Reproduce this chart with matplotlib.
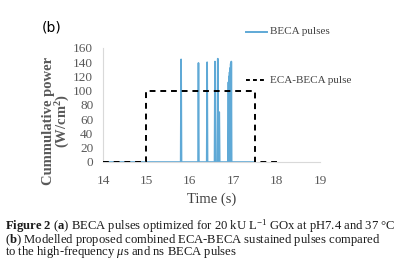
import matplotlib
matplotlib.use("Agg")
import matplotlib.pyplot as plt
from matplotlib.lines import Line2D

plt.rcParams['mathtext.fontset'] = 'custom'
plt.rcParams['mathtext.rm'] = 'Liberation Serif'
plt.rcParams['mathtext.it'] = 'Liberation Serif:italic'
plt.rcParams['mathtext.bf'] = 'Liberation Serif:bold'

# BECA pulses (time in s, power in W/cm^2)
beca_time = [14.0, 15.79, 15.80, 15.81, 16.19, 16.20, 16.21, 16.39, 16.40, 16.41,
             16.57, 16.58, 16.59, 16.63, 16.645, 16.655, 16.67, 16.68, 16.69,
             16.88, 16.89, 16.897, 16.903, 16.91, 16.917, 16.923, 16.93, 16.937,
             16.943, 16.95, 16.957, 16.965, 17.5]
beca_power = [0, 0, 144, 0, 0, 139, 0, 0, 140, 0,
              0, 141, 0, 0, 145, 0, 70, 70, 0,
              0, 112, 0, 120, 0, 126, 0, 132, 0,
              138, 0, 141, 0, 0]

# ECA-BECA sustained pulse
eca_time = [14.0, 15.0, 15.0, 17.5, 17.5, 18.0]
eca_power = [0, 0, 100, 100, 0, 0]

xticks = [14, 15, 16, 17, 18, 19]
yticks = [0, 20, 40, 60, 80, 100, 120, 140, 160]

fig = plt.figure(figsize=(3.97, 2.65), dpi=100)
ax = fig.add_axes([0.2594, 0.3887, 0.5466, 0.4303])

ax.plot(beca_time, beca_power, color='#5fa9d6', lw=1.2, zorder=2)
ax.plot(eca_time, eca_power, color='black', lw=1.4, ls=(0, (3, 2.5)), zorder=3)

ax.set_xlim(14, 19)
ax.set_ylim(0, 160)
ax.set_xticks(xticks)
ax.set_yticks(yticks)
tickfont = dict(family='Liberation Serif', size=9.5)
ax.set_xticklabels([str(t) for t in xticks], fontdict=tickfont, color='#595959')
ax.set_yticklabels([str(t) for t in yticks], fontdict=tickfont, color='#595959')
ax.tick_params(length=0)
ax.tick_params(axis='y', pad=7)
ax.tick_params(axis='x', pad=9.5)
for s in ['top', 'right']:
    ax.spines[s].set_visible(False)
for s in ['left', 'bottom']:
    ax.spines[s].set_color('#d9d9d9')
    ax.spines[s].set_linewidth(0.8)

ax.set_xlabel('Time (s)', family='Liberation Serif', fontsize=10.5, color='#404040', labelpad=4)

fig.text(57 / 397, 0.543, 'Cummulative power\n(W/cm$^\\mathbf{2}$)', rotation=90, ha='center',
         va='center', multialignment='center', family='Liberation Serif',
         fontweight='bold', fontsize=10.5, color='#595959', linespacing=0.95)

fig.text(0.105, 0.895, '(b)', family='DejaVu Sans', fontsize=10, color='black', ha='left', va='center')

# legend entries
fig.add_artist(Line2D([0.620, 0.673], [0.880, 0.880], color='#5fa9d6', lw=1.4))
fig.text(0.680, 0.880, 'BECA pulses', family='Liberation Serif', fontsize=8.0, color='#404040',
         va='center', ha='left')
fig.add_artist(Line2D([0.620, 0.673], [0.698, 0.698], color='black', lw=1.4, ls=(0, (2, 1.6))))
fig.text(0.680, 0.698, 'ECA-BECA pulse', family='Liberation Serif', fontsize=8.0, color='#404040',
         va='center', ha='left')

caption = ('$\\mathbf{Figure\\ 2}$ ($\\mathbf{a}$) BECA pulses optimized for 20 kU L$^{-1}$ GOx at pH7.4 and 37 °C\n'
           '($\\mathbf{b}$) Modelled proposed combined ECA-BECA sustained pulses compared\n'
           'to the high-frequency $\\mathit{\\mu}$s and ns BECA pulses')
fig.text(0.012, 0.099, caption, family='Liberation Serif', fontsize=9.1, color='#1a1a1a',
         ha='left', va='center', linespacing=0.72)

fig.savefig('out.png', dpi=100)
